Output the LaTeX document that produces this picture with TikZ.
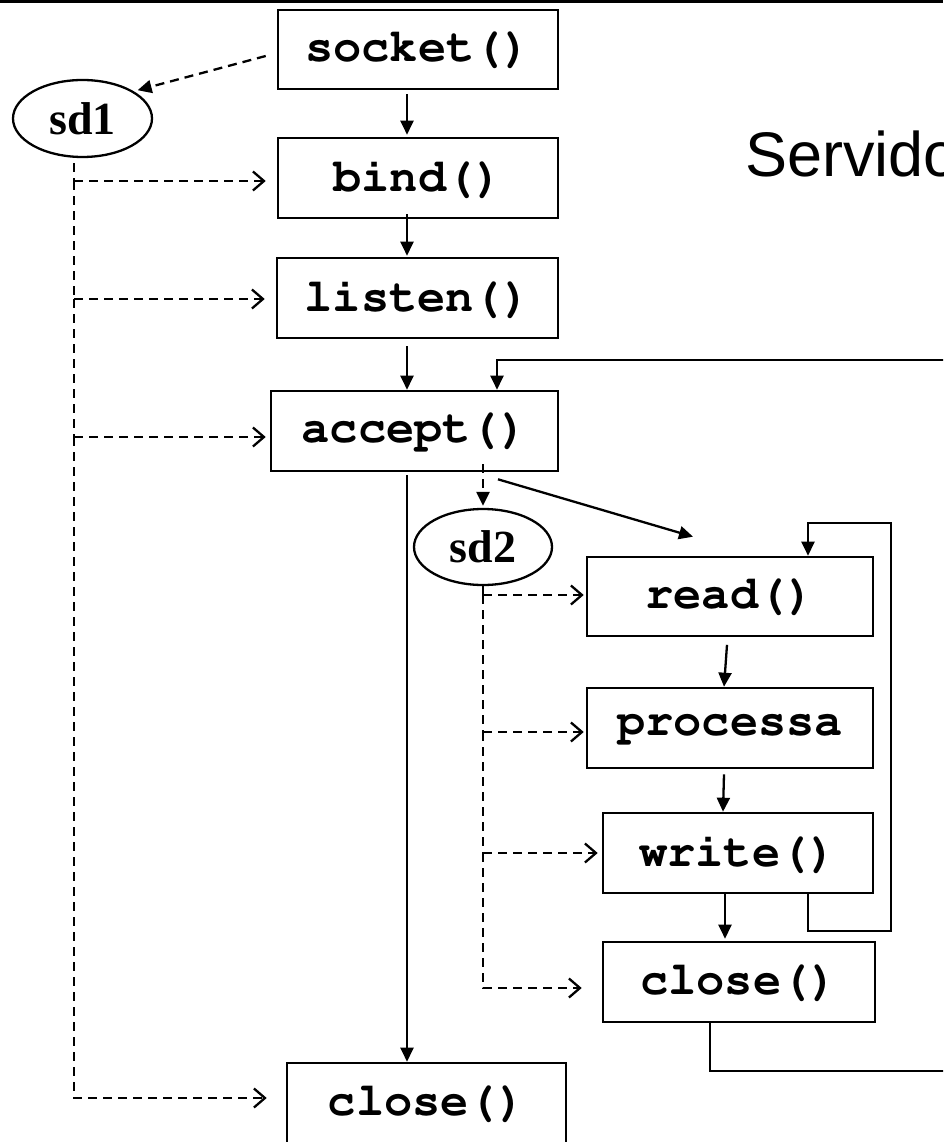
\documentclass[tikz,border=0pt]{standalone}
\usepackage[T1]{fontenc}
\usepackage{fontspec}
\setmainfont{Liberation Serif}
\newfontfamily\sansf{Liberation Sans}
\newcommand\courb{\fontencoding{T1}\fontfamily{pcr}\fontseries{b}\fontshape{n}\selectfont}
\usetikzlibrary{arrows.meta,shapes.geometric}
\begin{document}
\begin{tikzpicture}[x=1pt,y=-1pt,
  box/.style={draw,line width=2.6pt,inner sep=0pt,minimum height=80pt,font=\courb\fontsize{47}{50}\selectfont},
  ell/.style={draw,ellipse,line width=2.3pt,inner sep=0pt,font=\bfseries\fontsize{46}{48}\selectfont},
  arr/.style={line width=2.3pt,-{Triangle[length=14pt,width=13pt]}},
  dline/.style={line width=2.3pt,dash pattern=on 9pt off 6pt},
  dtri/.style={dline,-{Triangle[length=14pt,width=13pt]}},
  dbr/.style={dline,-{Straight Barb[length=11pt,width=19pt,line width=2.3pt]}},
  pline/.style={line width=2.3pt}]
\useasboundingbox (0,0) rectangle (943,1142);
\clip (0,0) rectangle (943,1142);

% top border
\draw[line width=3pt] (0,1.5) -- (943,1.5);

% title
\node[anchor=base west,inner sep=0pt,font=\sansf\fontsize{63}{70}\selectfont] (title) at (745,177) {Servido};

% boxes
\node[box,minimum width=280pt,minimum height=79pt] (socket) at (418,49.5) {socket()};
\node[box,minimum width=280pt] (bind) at (418,178) {bind()};
\node[box,minimum width=281pt] (listen) at (417.5,298) {listen()};
\node[box,minimum width=287pt] (accept) at (414.5,431) {accept()};
\node[box,minimum width=286pt,minimum height=79pt] (read) at (730,596.5) {read()};
\node[box,minimum width=286pt] (processa) at (730,728) {processa};
\node[box,minimum width=270pt] (write) at (738,853) {write()};
\node[box,minimum width=272pt] (closeB) at (739,982) {close()};
\node[box,minimum width=279pt] (closeA) at (426.5,1103) {close()};

% ellipses
\node[ell,minimum width=139pt,minimum height=77pt] (sd1) at (82.5,118.5) {sd1};
\node[ell,minimum width=138pt,minimum height=76pt] (sd2) at (483,547) {sd2};

% helper columns
\coordinate (cA) at (407,0);
\coordinate (cB) at (497,0);
\coordinate (cL) at (74,0);
\coordinate (cM) at (483,0);
\coordinate (cW) at (808,0);
\coordinate (cC) at (710,0);
\coordinate (rbot) at (970,1071);
\coordinate (rtop) at (970,360);
\coordinate (wbot) at (891,931);
\coordinate (wtop) at (891,523);

% main chain
\draw[dtri,shorten >=4pt] ([shift={(-11,6.5)}]socket.west) -- (sd1.28);
\draw[arr,shorten <=4pt,shorten >=2pt] (socket.south -| cA) -- (bind.north -| cA);
\draw[arr,shorten <=-5pt,shorten >=1pt] (bind.south -| cA) -- (listen.north -| cA);
\draw[arr,shorten <=7pt] (listen.south -| cA) -- (accept.north -| cA);
\draw[arr,shorten <=3pt] (accept.south -| cA) -- (closeA.north -| cA);

% outer loop back to accept
\draw[arr] (closeB.south -| cC) |- (rbot) -- (rtop) -- (rtop -| cB) -- (accept.north -| cB);

% accept -> sd2, accept -> read
\draw[dtri,shorten <=-8pt,shorten >=2pt] (accept.south -| sd2.north) -- (sd2.north);
\draw[arr] ([shift={(83.5,7)}]accept.south) -- ([shift={(-37,-19)}]read.north);

% inner chain
\draw[arr] ([shift={(-3,7.5)}]read.south) -- ([shift={(-6,0)}]processa.north);
\draw[arr] ([shift={(-6,5)}]processa.south) -- ([shift={(-15,0)}]write.north);
\draw[arr,shorten >=2pt] ([shift={(-13,0)}]write.south) -- ([shift={(-14,0)}]closeB.north);

% inner loop
\draw[arr] (write.south -| cW) |- (wbot) -- (wtop) -- (wtop -| cW) -- (read.north -| cW);

% sd1 dashed trunk and branches
\coordinate (b1) at (74,181);
\coordinate (b2) at (74,299);
\coordinate (b3) at (74,437);
\coordinate (b4) at (74,1098);
\draw[dline] (sd1.south -| cL) ++(0,5) -- (b1);
\draw[dline] (b1) -- (b2);
\draw[dline] (b2) -- (b3);
\draw[dbr,shorten >=19pt] (b3) -- (b4) -- (b4 -| closeA.west);
\draw[dbr,shorten >=11pt] (b1) -- (b1 -| bind.west);
\draw[dbr,shorten >=11pt] (b2) -- (b2 -| listen.west);
\draw[dbr,shorten >=4pt] (b3) -- (b3 -| accept.west);

% sd2 dashed trunk and branches
\coordinate (s1) at (483,595);
\coordinate (s2) at (483,732);
\coordinate (s3) at (483,853);
\coordinate (s4) at (483,988);
\draw[dline] (sd2.south) -- (s1);
\draw[dline] (s1) -- (s2);
\draw[dline] (s2) -- (s3);
\draw[dbr,shorten >=20pt] (s3) -- (s4) -- (s4 -| closeB.west);
\draw[dbr,shorten >=2pt] (s1) -- (s1 -| read.west);
\draw[dbr,shorten >=2pt] (s2) -- (s2 -| processa.west);
\draw[dbr,shorten >=4pt] (s3) -- (s3 -| write.west);
\end{tikzpicture}
\end{document}
